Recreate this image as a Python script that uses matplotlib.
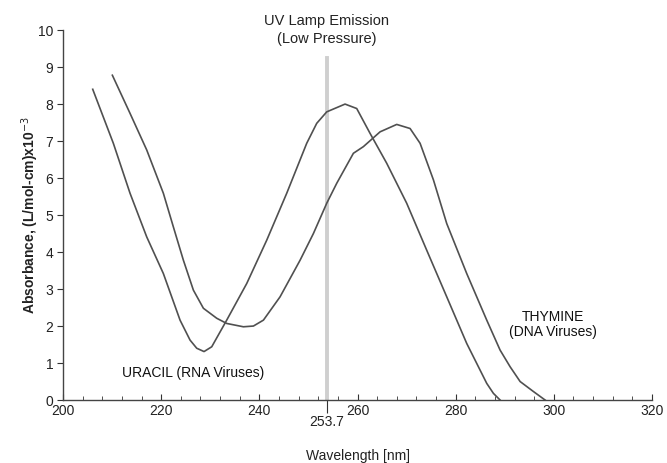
import numpy as np
import matplotlib
matplotlib.use('Agg')
import matplotlib.pyplot as plt

plt.rcParams['font.family'] = ['Liberation Sans', 'DejaVu Sans']

# 尿嘧啶 (RNA) 吸收曲线
uracil_wl = [206.05, 210.25, 213.65, 217.05, 220.44, 223.84, 225.88, 227.24, 228.73, 230.30,
             233.35, 237.43, 241.50, 245.58, 249.65, 251.69, 253.73, 257.46, 259.84, 262.55,
             265.95, 270.02, 274.10, 278.18, 282.25, 286.33, 287.69, 289.05]
uracil_abs = [8.40, 6.94, 5.59, 4.41, 3.42, 2.16, 1.62, 1.40, 1.31, 1.44,
              2.16, 3.15, 4.32, 5.59, 6.94, 7.48, 7.79, 8.00, 7.88, 7.21,
              6.40, 5.32, 4.05, 2.79, 1.53, 0.45, 0.18, 0.0]

# 胸腺嘧啶 (DNA) 吸收曲线
thymine_wl = [210.05, 213.65, 217.05, 220.44, 222.48, 224.52, 226.56, 228.60, 231.32, 233.35,
              236.75, 238.79, 240.83, 244.22, 248.30, 251.01, 253.73, 255.77, 259.16, 261.20,
              264.60, 267.99, 270.71, 272.75, 275.47, 278.18, 282.25, 286.33, 289.05, 291.09,
              293.13, 295.84, 298.22]
thymine_abs = [8.78, 7.75, 6.76, 5.59, 4.68, 3.78, 2.97, 2.48, 2.21, 2.07,
               1.98, 2.00, 2.16, 2.79, 3.78, 4.50, 5.32, 5.86, 6.67, 6.85,
               7.25, 7.45, 7.34, 6.94, 5.95, 4.77, 3.42, 2.16, 1.35, 0.90,
               0.50, 0.23, 0.0]

lamp_wl = 253.7
lamp_top = 9.25

fig = plt.figure(figsize=(6.67, 4.63), dpi=100)
ax = fig.add_axes([0.0945, 0.136, 0.883, 0.799])

ax.plot([lamp_wl, lamp_wl], [0, lamp_top], color='#cfcfcf', lw=2.8, zorder=1)
ax.plot(uracil_wl, uracil_abs, color='#505050', lw=1.2, zorder=2, solid_joinstyle='round')
ax.plot(thymine_wl, thymine_abs, color='#505050', lw=1.2, zorder=2, solid_joinstyle='round')

ax.set_xlim(200, 320)
ax.set_ylim(0, 10)
ax.set_xticks(np.arange(200, 321, 20))
ax.set_xticks(np.arange(200, 321, 4), minor=True)
ax.set_yticks(np.arange(0, 11, 1))
ax.tick_params(axis='x', which='major', direction='in', length=4, pad=3,
               labelsize=10, color='#333333', labelcolor='#222222')
ax.tick_params(axis='x', which='minor', direction='in', length=3, color='#333333')
ax.tick_params(axis='y', direction='out', length=4, pad=3, labelsize=10,
               color='#333333', labelcolor='#222222')

for s in ['top', 'right']:
    ax.spines[s].set_visible(False)
for s in ['left', 'bottom']:
    ax.spines[s].set_color('#444444')
    ax.spines[s].set_linewidth(1.0)

# 253.7 标记
sec = ax.secondary_xaxis('bottom')
sec.set_xticks([lamp_wl])
sec.set_xticklabels(['253.7'])
sec.tick_params(direction='out', length=9, pad=2, labelsize=10,
                color='#333333', labelcolor='#222222')
sec.spines['bottom'].set_visible(False)

ax.set_xlabel('Wavelength [nm]', fontsize=10, color='#222222', labelpad=22)
ax.set_ylabel('Absorbance, (L/mol-cm)x10$^{-3}$', fontsize=10, fontweight='bold',
              color='#222222', labelpad=-2)

ax.text(lamp_wl, 10.0, 'UV Lamp Emission\n(Low Pressure)', ha='center', va='center',
        fontsize=10.5, color='#222222', linespacing=1.35, clip_on=False)
ax.text(226.5, 0.72, 'URACIL (RNA Viruses)', ha='center', va='center',
        fontsize=10, color='#111111')
ax.text(299.8, 2.03, 'THYMINE\n(DNA Viruses)', ha='center', va='center',
        fontsize=10, color='#111111', linespacing=1.1)

fig.savefig('out.png', dpi=100)
